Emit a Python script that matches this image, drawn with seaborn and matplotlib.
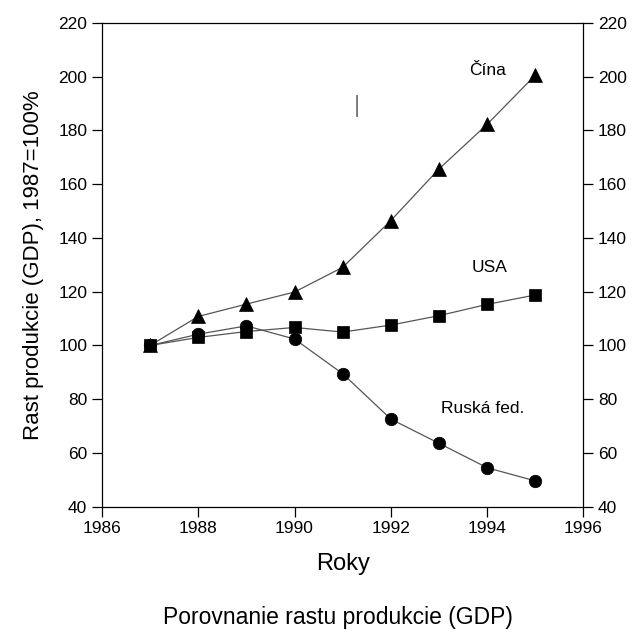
import numpy as np
import pandas as pd
import matplotlib
matplotlib.use("Agg")
import matplotlib.pyplot as plt
import seaborn as sns

years = [1987, 1988, 1989, 1990, 1991, 1992, 1993, 1994, 1995]
china = [100, 110.8, 115.4, 119.9, 129.1, 146.5, 165.7, 182.3, 200.6]
usa = [100, 103.0, 105.2, 106.7, 105.0, 107.6, 111.1, 115.3, 118.8]
russia = [100, 104.2, 107.3, 102.4, 89.5, 72.6, 63.6, 54.5, 49.6]

x_ticks = [1986, 1988, 1990, 1992, 1994, 1996]
y_ticks = [40, 60, 80, 100, 120, 140, 160, 180, 200, 220]

sns.set_style("ticks")
plt.rcParams['font.family'] = ['Liberation Sans', 'DejaVu Sans']
plt.rcParams['text.color'] = 'black'
plt.rcParams['axes.labelcolor'] = 'black'

fig = plt.figure(figsize=(6.37, 6.39), dpi=100)
ax = fig.add_axes([0.160, 0.207, 0.756, 0.757])

series = [
    ("Čína", china, "^", 10),
    ("USA", usa, "s", 8),
    ("Ruská fed.", russia, "o", 9),
]
for name, vals, mk, ms in series:
    df = pd.DataFrame({"Roky": years, "val": vals})
    sns.lineplot(data=df, x="Roky", y="val", ax=ax, color="#555555", linewidth=0.9,
                 marker=mk, markersize=ms, markerfacecolor="black",
                 markeredgecolor="black", markeredgewidth=0.5)

ax.set_xlim(1986, 1996)
ax.set_ylim(40, 220)
ax.set_xticks(x_ticks)
ax.set_yticks(y_ticks)
ax.tick_params(axis="both", direction="out", length=7, width=0.9, labelsize=12.5,
               colors="black")
ax.tick_params(axis="y", right=True, labelright=True)
for s in ax.spines.values():
    s.set_linewidth(0.9)
    s.set_color("black")

ax.set_xlabel("Roky", fontsize=17, labelpad=12)
ax.set_ylabel("Rast produkcie (GDP), 1987=100%", fontsize=16, labelpad=10)

ax.text(1994.0, 202.5, "Čína", fontsize=12.5, ha="center", va="center")
ax.text(1994.05, 129, "USA", fontsize=12.5, ha="center", va="center")
ax.text(1993.9, 76.5, "Ruská fed.", fontsize=12.5, ha="center", va="center")
ax.text(1991.3, 189, "|", fontsize=17, color="#777777", ha="center", va="center")

fig.text(0.53, 0.034, "Porovnanie rastu produkcie (GDP)", fontsize=16.5,
         ha="center", va="center")

fig.savefig("out.png", dpi=100)
